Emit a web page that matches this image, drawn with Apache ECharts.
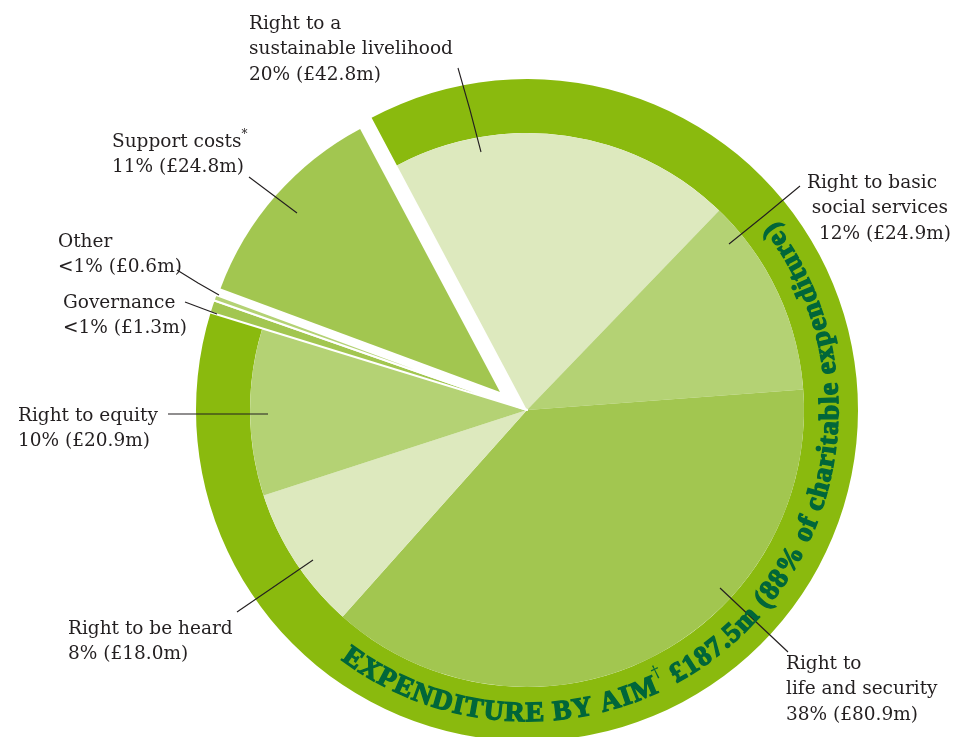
<!DOCTYPE html>
<html><head><meta charset="utf-8">
<script src="https://cdn.jsdelivr.net/npm/echarts@6/dist/echarts.min.js"></script>
<style>html,body{margin:0;padding:0;background:#fff}#chart{width:957px;height:737px}</style>
</head><body><div id="chart"></div>
<script>
// ---- data ----
const categories = ['Right to a sustainable livelihood', 'Right to basic social services', 'Right to life and security', 'Right to be heard', 'Right to equity', 'Governance', 'Other', 'Support costs'];
const displayNames = ['Right to a\nsustainable livelihood', 'Right to basic\nsocial services', 'Right to\nlife and security', 'Right to be heard', 'Right to equity', 'Governance', 'Other', 'Support costs{s|*}'];
const values = [42.8, 24.9, 80.9, 18.0, 20.9, 1.3, 0.6, 24.8];
const shareLabels = ['20%', '12%', '38%', '8%', '10%', '<1%', '<1%', '11%'];
const isAim = [true, true, true, true, true, false, false, false];
const ringTitle = 'EXPENDITURE BY AIM';
const ringMark = '†';
const ringRest = ' £187.5m (88% of charitable expenditure)';

// ---- style / layout ----
const colors = ['#dde9be', '#b4d274', '#a2c650', '#dde9be', '#b4d274', '#a2c650', '#b4d274', '#a2c650'];
const RING_COLOR = '#8aba0e';
const RING_TEXT_COLOR = '#00663a';
const TEXT_COLOR = '#231f20';
const NONE = 'rgba(0,0,0,0)';
const CX = 527, CY = 410, R_IN = 277, R_OUT = 331, START = 118;
const FONT = '"DejaVu Serif", serif';
const RING_FONT = '"Liberation Serif", serif';

const labelPos = {
  0: {x: 249, y: 11, align: 'left', line: [[481, 152], [470, 110], [458, 68]]},
  1: {x: 951, y: 170, align: 'right', pads: [14, 3, 0], line: [[729, 244], [765, 215], [800, 186]]},
  2: {x: 786, y: 651, align: 'left', line: [[720, 588], [754, 620], [788, 652]]},
  3: {x: 68, y: 616, align: 'left', line: [[313, 560], [275, 586], [237, 612]]},
  4: {x: 18, y: 403, align: 'left', line: [[268, 414], [218, 414], [168, 414]]},
  5: {x: 63, y: 290, align: 'left', line: [[217, 314], [201, 308], [185, 302]]},
  6: {x: 58, y: 229, align: 'left', line: [[219, 295], [198, 283], [177, 270]]},
  7: {x: 112, y: 129, align: 'left', line: [[297, 213], [273, 195], [249, 177]]}
};

function labelText(i) {
  const txt = displayNames[i] + '\n' + shareLabels[i] + ' (£' + values[i].toFixed(1) + 'm)';
  const l = labelPos[i];
  if (l && l.pads) {
    return txt.split('\n').map((s, k) => '{p' + l.pads[k] + '|' + s + '}').join('\n');
  }
  return txt;
}

function buildData(visible, colorFn) {
  return categories.map((c, i) => {
    if (visible(i)) {
      return {name: c, value: values[i], itemStyle: {color: colorFn(i)}};
    }
    return {name: c, value: values[i], itemStyle: {color: NONE, borderWidth: 0}};
  });
}

const aimTotal = values.reduce((s, v, i) => s + (isAim[i] ? v : 0), 0);
const ringData = [{name: 'Aims', value: aimTotal, itemStyle: {color: RING_COLOR}}].concat(
  categories.map((c, i) => isAim[i] ? null : {name: c, value: values[i], itemStyle: {color: NONE}}).filter(Boolean));

const richBase = {fontFamily: FONT, fontSize: 18.5, lineHeight: 25.5, color: TEXT_COLOR};
const rich = {s: {fontFamily: FONT, fontSize: 12, color: TEXT_COLOR, verticalAlign: 'top', lineHeight: 25.5}};
[0, 3, 14].forEach(p => { rich['p' + p] = Object.assign({padding: [0, p, 0, 0]}, richBase); });

const labelCommon = {
  show: true,
  position: 'outside',
  formatter: p => labelText(p.dataIndex),
  fontFamily: FONT,
  fontSize: 18.5,
  lineHeight: 25.5,
  color: TEXT_COLOR,
  rich: rich
};
const labelLineCommon = {show: true, smooth: false, length: 5, length2: 5, lineStyle: {color: TEXT_COLOR, width: 1.1}};
function labelLayout(p) {
  const l = labelPos[p.dataIndex];
  if (!l) return {};
  return {x: l.x, y: l.y, align: l.align, verticalAlign: 'top', labelLinePoints: l.line};
}

const base = {type: 'pie', startAngle: START, clockwise: true, avoidLabelOverlap: false, silent: true,
  animation: false, emphasis: {disabled: true}, minAngle: 0, label: {show: false}, labelLine: {show: false}};

const series = [
  Object.assign({}, base, {name: 'ring', z: 1, center: [CX, CY], radius: [R_IN, R_OUT], data: ringData}),
  Object.assign({}, base, {name: 'aims', z: 2, center: [CX, CY], radius: [0, R_IN],
    data: buildData(i => isAim[i], i => colors[i])}),
  Object.assign({}, base, {name: 'support', z: 3, center: [500, 392], radius: [0, 298],
    data: buildData(i => i === 7, i => colors[i])}),
  Object.assign({}, base, {name: 'small', z: 4, center: [CX, CY], radius: [0, R_OUT + 1],
    data: buildData(i => i === 5 || i === 6, i => colors[i]).map(d => {
      if (d.itemStyle.color !== NONE) { d.itemStyle.borderColor = '#ffffff'; d.itemStyle.borderWidth = 2; }
      return d;
    })}),
  // labels and leader lines, drawn on top of every slice
  Object.assign({}, base, {name: 'labels', z: 6, center: [CX, CY], radius: [0, R_IN],
    data: categories.map((c, i) => ({name: c, value: values[i], itemStyle: {color: NONE}})),
    label: labelCommon, labelLine: labelLineCommon, labelLayout: labelLayout})
];

// ---- curved ring text ----
const ctx = document.createElement('canvas').getContext('2d');
const tokens = [];
for (const ch of ringTitle) tokens.push({ch, main: true});
tokens.push({ch: ringMark, main: false});
for (const ch of ringRest) tokens.push({ch, main: true});
const A0 = 216.8, A1 = 52.7, R_TXT = 304;
const arcLen = (A0 - A1) * Math.PI / 180 * R_TXT;
function fontOf(t, fs) { return t.main ? ('bold ' + fs + 'px ' + RING_FONT) : ((fs * 0.6) + 'px ' + FONT); }
function measure(fs) {
  let tot = 0;
  tokens.forEach(t => { ctx.font = fontOf(t, fs); t.w = ctx.measureText(t.ch).width; tot += t.w; });
  return tot;
}
let fs = 24;
let W = measure(fs);
fs = Math.max(18, Math.min(28, fs * arcLen / W));
W = measure(fs);
const gap = (arcLen - W) / (tokens.length - 1);
const graphics = [];
let cum = 0;
tokens.forEach((t, i) => {
  const mid = cum + t.w / 2 + gap * i;
  cum += t.w;
  const th = A0 - mid / R_TXT * 180 / Math.PI;
  const r = t.main ? R_TXT : R_TXT - fs * 0.4;
  const rad = th * Math.PI / 180;
  graphics.push({
    type: 'text', z: 10, silent: true,
    x: CX + r * Math.sin(rad), y: CY - r * Math.cos(rad),
    rotation: (180 - th) * Math.PI / 180,
    style: {text: t.ch, fill: RING_TEXT_COLOR, stroke: t.main ? RING_TEXT_COLOR : null, lineWidth: t.main ? 1.3 : 0,
      font: fontOf(t, fs),
      textAlign: 'center', textVerticalAlign: 'middle', align: 'center', verticalAlign: 'middle'}
  });
});

const chart = echarts.init(document.getElementById('chart'), null, {renderer: 'canvas'});
chart.setOption({backgroundColor: '#ffffff', animation: false, series: series, graphic: {elements: graphics}});
</script></body></html>
